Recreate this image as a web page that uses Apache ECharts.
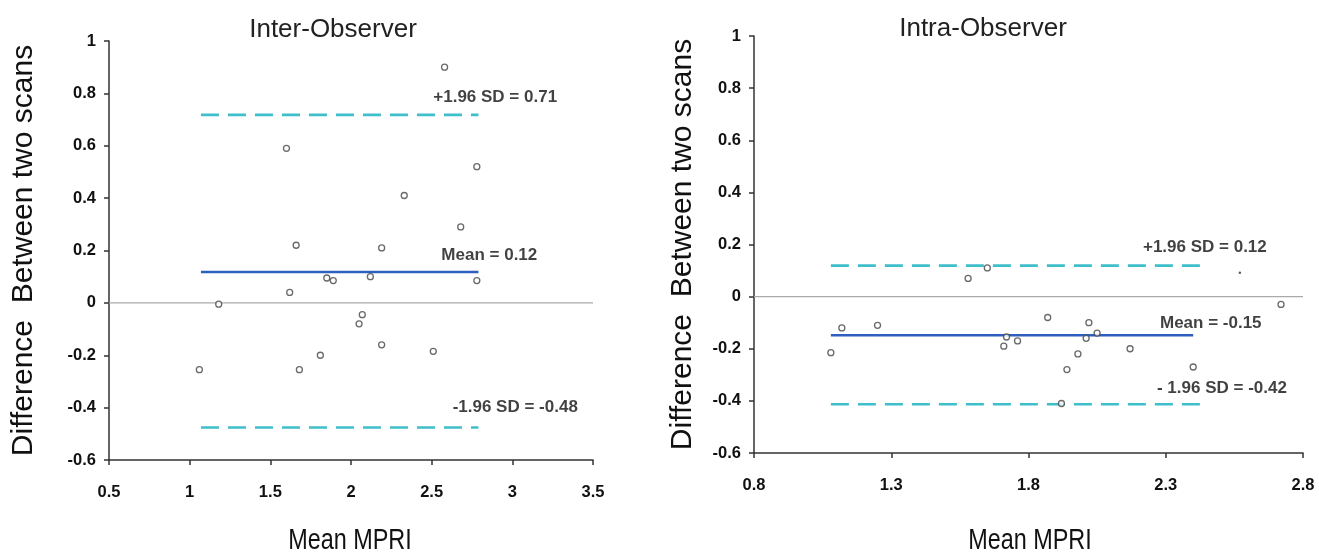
<!DOCTYPE html>
<html>
<head>
<meta charset="utf-8">
<script src="https://cdn.jsdelivr.net/npm/echarts@6/dist/echarts.min.js"></script>
<style>
html,body{margin:0;padding:0;background:#fff;}
#chart{width:1319px;height:554px;}
</style>
</head>
<body>
<div id="chart"></div>
<script>
// ---- Data ----
var interX = [2.58, 1.60, 2.78, 2.33, 2.68, 1.66, 2.19, 1.85, 1.89, 2.12, 2.78, 1.62, 1.18, 2.07, 2.05, 2.19, 2.51, 1.81, 1.06, 1.68];
var interY = [0.90, 0.59, 0.52, 0.41, 0.29, 0.22, 0.21, 0.095, 0.085, 0.10, 0.085, 0.04, -0.005, -0.045, -0.08, -0.16, -0.185, -0.20, -0.255, -0.255];
var interMean = 0.118, interUpper = 0.718, interLower = -0.476;
var interLineX = [1.07, 2.79];

var intraX = [1.65, 1.58, 2.72, 1.08, 1.12, 1.25, 1.87, 2.02, 2.05, 2.01, 1.72, 1.71, 1.76, 1.98, 2.17, 1.94, 2.40, 1.92];
var intraY = [0.11, 0.07, -0.03, -0.215, -0.12, -0.11, -0.08, -0.10, -0.14, -0.16, -0.155, -0.19, -0.17, -0.22, -0.20, -0.28, -0.27, -0.41];
var intraTinyX = [2.57], intraTinyY = [0.092];
var intraMean = -0.148, intraUpper = 0.119, intraLower = -0.413;
var intraMeanX = [1.08, 2.40];
var intraSdX = [1.08, 2.455];

var yTicks = [-0.6, -0.4, -0.2, 0, 0.2, 0.4, 0.6, 0.8, 1];
var interXTicks = [0.5, 1, 1.5, 2, 2.5, 3, 3.5];
var intraXTicks = [0.8, 1.3, 1.8, 2.3, 2.8];

var titles = ['Inter-Observer', 'Intra-Observer'];
var yName = 'Difference  Between two scans';
var xName = 'Mean MPRI';
var interLabels = ['+1.96 SD = 0.71', 'Mean = 0.12', '-1.96 SD = -0.48'];
var intraLabels = ['+1.96 SD = 0.12', 'Mean = -0.15', '- 1.96 SD = -0.42'];

// ---- Helpers ----
function pts(xs, ys){ return xs.map(function(x,i){ return [x, ys[i]]; }); }
function hline(xr, y){ return [[xr[0], y], [xr[1], y]]; }

var FONT = "'Liberation Sans', Arial, sans-serif";
var axisLineStyle = {color:'#333', width:1.5};
var tickLabel = {color:'#111', fontFamily:FONT, fontWeight:'bold', fontSize:16.5};

function xAxis(idx, min, max, ticks){
  return {
    type:'value', gridIndex:idx, min:min, max:max,
    axisLine:{show:true, onZero:false, lineStyle:axisLineStyle},
    axisTick:{show:true, inside:false, length:5, customValues:ticks, lineStyle:axisLineStyle},
    axisLabel:Object.assign({customValues:ticks, margin:24}, tickLabel),
    splitLine:{show:false}
  };
}
function yAxis(idx, gap){
  return {
    type:'value', gridIndex:idx, min:-0.6, max:1,
    name:yName, nameLocation:'middle', nameGap:gap, nameRotate:90,
    nameTextStyle:{fontFamily:FONT, fontSize:30, color:'#111'},
    axisLine:{show:true, onZero:false, lineStyle:axisLineStyle},
    axisTick:{show:true, inside:false, length:5, customValues:yTicks, lineStyle:axisLineStyle},
    axisLabel:Object.assign({customValues:yTicks, margin:13}, tickLabel),
    splitLine:{show:false}
  };
}
function scatter(idx, data, size, fill){
  return {
    type:'scatter', xAxisIndex:idx, yAxisIndex:idx, data:data,
    symbol:'circle', symbolSize:size,
    itemStyle:{color:fill ? '#333' : '#fff', borderColor:'#444', borderWidth:fill ? 0 : 1.3},
    silent:true, z:5
  };
}
function line(idx, data, color, dashed){
  return {
    type:'line', xAxisIndex:idx, yAxisIndex:idx, data:data,
    symbol:'none', silent:true, z:3,
    lineStyle:{color:color, width:2.6, type:dashed ? [18, 9] : 'solid'}
  };
}
function zeroLine(idx, xr){
  return {
    type:'line', xAxisIndex:idx, yAxisIndex:idx, data:hline(xr, 0),
    symbol:'none', silent:true, z:2, lineStyle:{color:'#aaa', width:1.2}
  };
}
function labels(idx, items){
  return {
    type:'scatter', xAxisIndex:idx, yAxisIndex:idx, symbolSize:0, silent:true, z:6,
    data:items.map(function(it){ return {value:[it[0], it[1]], label:{show:true, formatter:it[2]}}; }),
    label:{show:true, position:'right', distance:0, color:'#111', fontFamily:FONT, fontWeight:'bold', fontSize:17}
  };
}
function xNameText(cx, cy){
  return {
    type:'text', x:cx, y:cy, scaleX:0.78, scaleY:1, silent:true,
    style:{text:xName, fontFamily:FONT, fontSize:30, fill:'#111', align:'center', verticalAlign:'middle'}
  };
}

var COL_MEAN = '#2e5fbf', COL_SD = '#3fbfcc';

var option = {
  animation:false,
  backgroundColor:'#fff',
  title:[
    {text:titles[0], left:328, top:12, textAlign:'center', textStyle:{fontFamily:FONT, fontWeight:'normal', fontSize:26, color:'#222'}},
    {text:titles[1], left:978, top:11, textAlign:'center', textStyle:{fontFamily:FONT, fontWeight:'normal', fontSize:26, color:'#222'}}
  ],
  graphic:[xNameText(350, 541), xNameText(1030, 541)],
  grid:[
    {left:109, top:41, width:484, height:419},
    {left:754, top:36, width:549, height:417}
  ],
  xAxis:[xAxis(0, 0.5, 3.5, interXTicks), xAxis(1, 0.8, 2.8, intraXTicks)],
  yAxis:[yAxis(0, 70), yAxis(1, 56)],
  series:[
    zeroLine(0, [0.5, 3.5]),
    line(0, hline(interLineX, interUpper), COL_SD, true),
    line(0, hline(interLineX, interMean), COL_MEAN, false),
    line(0, hline(interLineX, interLower), COL_SD, true),
    scatter(0, pts(interX, interY), 6, false),
    labels(0, [[2.51, 0.786, interLabels[0]], [2.56, 0.18, interLabels[1]], [2.63, -0.40, interLabels[2]]]),

    zeroLine(1, [0.8, 2.8]),
    line(1, hline(intraSdX, intraUpper), COL_SD, true),
    line(1, hline(intraMeanX, intraMean), COL_MEAN, false),
    line(1, hline(intraSdX, intraLower), COL_SD, true),
    scatter(1, pts(intraX, intraY), 6, false),
    scatter(1, pts(intraTinyX, intraTinyY), 2.5, true),
    labels(1, [[2.217, 0.19, intraLabels[0]], [2.279, -0.101, intraLabels[1]], [2.268, -0.351, intraLabels[2]]])
  ]
};
var chart = echarts.init(document.getElementById('chart'), null, {renderer:'canvas'});
chart.setOption(option);
</script>
</body>
</html>
